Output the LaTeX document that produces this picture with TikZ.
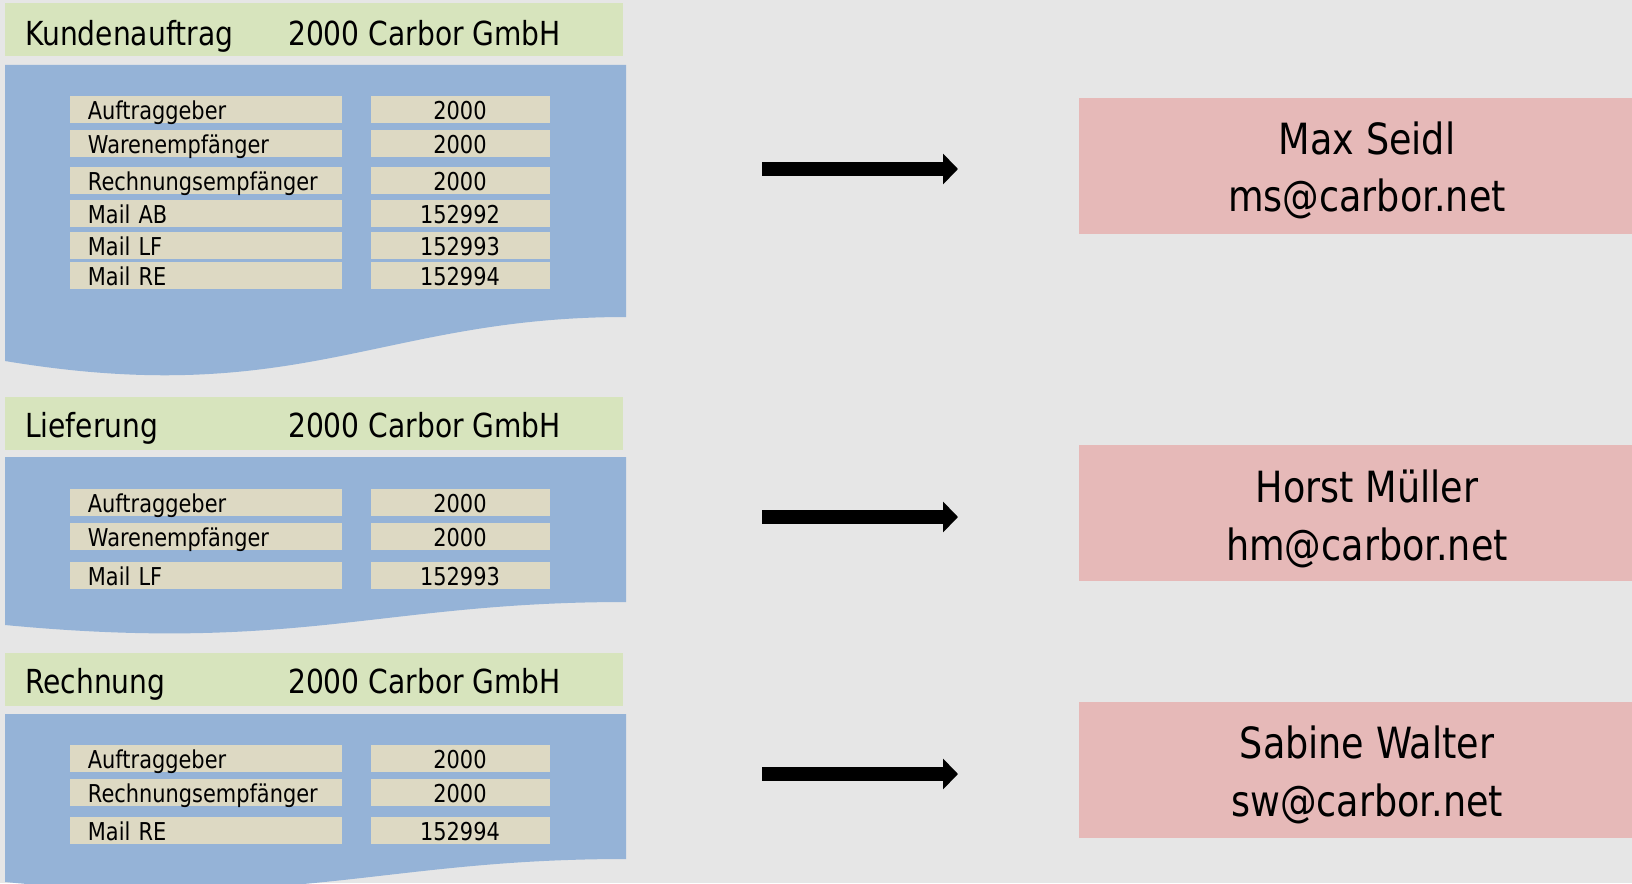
\documentclass[tikz,border=0pt]{standalone}
\usepackage{fontspec}
\setmainfont[FakeStretch=0.85]{DejaVu Sans}
\usetikzlibrary{arrows.meta}
\definecolor{bgc}{HTML}{E6E6E6}
\definecolor{hdrc}{HTML}{D7E4BD}
\definecolor{docc}{HTML}{95B3D7}
\definecolor{rowc}{HTML}{DDD9C3}
\definecolor{pinkc}{HTML}{E6B9B8}
\tikzset{
  hdrbox/.style={fill=hdrc, draw=none, minimum width=618pt, minimum height=53pt, inner sep=0pt, anchor=north west},
  hdrtxt/.style={anchor=base west, inner sep=0pt, font=\fontsize{33.1}{38}\selectfont},
  docshape/.style={fill=docc, draw=none},
  lblbox/.style={fill=rowc, draw=none, anchor=west, minimum height=27pt, text width=235.7pt, inner xsep=18pt, inner ysep=0pt, text height=20pt, text depth=0pt, align=left, font=\fontsize{24.6}{28}\selectfont},
  valbox/.style={fill=rowc, draw=none, minimum width=179pt, minimum height=27pt, inner sep=0pt, text height=20pt, text depth=0pt, font=\fontsize{24.6}{28}\selectfont},
  persbox/.style={fill=pinkc, draw=none, anchor=north west, minimum width=560pt, minimum height=136pt, inner sep=0pt},
  perstxt/.style={anchor=base, inner sep=0pt, font=\fontsize{43}{50}\selectfont},
  bigarrow/.style={line width=14pt, -{Triangle[length=15pt,width=30pt]}}
}
\begin{document}
\begin{tikzpicture}[x=1pt,y=-1pt]
\fill[bgc] (0,0) rectangle (1632,883);
\useasboundingbox (0,0) rectangle (1632,883);
\clip (0,0) rectangle (1632,883);

% ---------- document 1 ----------
\node[hdrbox] (h1) at (5,3) {};
\node[hdrtxt] (h1a) at (25,46) {Kundenauftrag};
\node[hdrtxt] (h1b) at (288,46) {2000 Carbor GmbH};
\fill[docshape] (5,65) -- (626,65) -- (626,317) .. controls (380,317) and (300,410) .. (5,361) -- cycle;
\node[lblbox] (a1) at (69.7,109.3) {Auftraggeber};
\node[valbox] (b1) at (460,109.3) {2000};
\node[lblbox] (a2) at (69.7,143.1) {Warenempfänger};
\node[valbox] (b2) at (460,143.1) {2000};
\node[lblbox] (a3) at (69.7,180.0) {Rechnungsempfänger};
\node[valbox] (b3) at (460,180.0) {2000};
\node[lblbox] (a4) at (69.7,213.9) {Mail AB};
\node[valbox] (b4) at (460,213.9) {152992};
\node[lblbox] (a5) at (69.7,245.6) {Mail LF};
\node[valbox] (b5) at (460,245.6) {152993};
\node[lblbox] (a6) at (69.7,275.8) {Mail RE};
\node[valbox] (b6) at (460,275.8) {152994};

% ---------- document 2 ----------
\node[hdrbox] (h2) at (5,397) {};
\node[hdrtxt] (h2a) at (25,437) {Lieferung};
\node[hdrtxt] (h2b) at (288,437) {2000 Carbor GmbH};
\fill[docshape] (5,457) -- (626,457) -- (626,602) .. controls (380,602) and (300,653) .. (5,625) -- cycle;
\node[lblbox] (c1) at (69.7,502.7) {Auftraggeber};
\node[valbox] (d1) at (460,502.7) {2000};
\node[lblbox] (c2) at (69.7,536.5) {Warenempfänger};
\node[valbox] (d2) at (460,536.5) {2000};
\node[lblbox] (c3) at (69.7,575.5) {Mail LF};
\node[valbox] (d3) at (460,575.5) {152993};

% ---------- document 3 ----------
\node[hdrbox] (h3) at (5,653) {};
\node[hdrtxt] (h3a) at (25,693) {Rechnung};
\node[hdrtxt] (h3b) at (288,693) {2000 Carbor GmbH};
\fill[docshape] (5,714) -- (626,714) -- (626,859) .. controls (380,859) and (300,910) .. (5,882) -- cycle;
\node[lblbox] (e1) at (69.7,758.7) {Auftraggeber};
\node[valbox] (f1) at (460,758.7) {2000};
\node[lblbox] (e2) at (69.7,792.0) {Rechnungsempfänger};
\node[valbox] (f2) at (460,792.0) {2000};
\node[lblbox] (e3) at (69.7,830.5) {Mail RE};
\node[valbox] (f3) at (460,830.5) {152994};

% ---------- persons ----------
\node[persbox] (p1) at (1079,98) {};
\node[perstxt] (p1a) at (1367,154) {Max Seidl};
\node[perstxt] (p1b) at (1367,211) {ms@carbor.net};
\node[persbox] (p2) at (1079,445) {};
\node[perstxt] (p2a) at (1367,502) {Horst Müller};
\node[perstxt] (p2b) at (1367,560) {hm@carbor.net};
\node[persbox] (p3) at (1079,702) {};
\node[perstxt] (p3a) at (1367,758) {Sabine Walter};
\node[perstxt] (p3b) at (1367,816) {sw@carbor.net};

% ---------- arrows ----------
\coordinate (s1) at (762,169);
\coordinate (t1) at (958,169);
\coordinate (s2) at (762,517);
\coordinate (t2) at (958,517);
\coordinate (s3) at (762,774);
\coordinate (t3) at (958,774);
\draw[bigarrow] (s1) -- (t1);
\draw[bigarrow] (s2) -- (t2);
\draw[bigarrow] (s3) -- (t3);
\end{tikzpicture}
\end{document}
